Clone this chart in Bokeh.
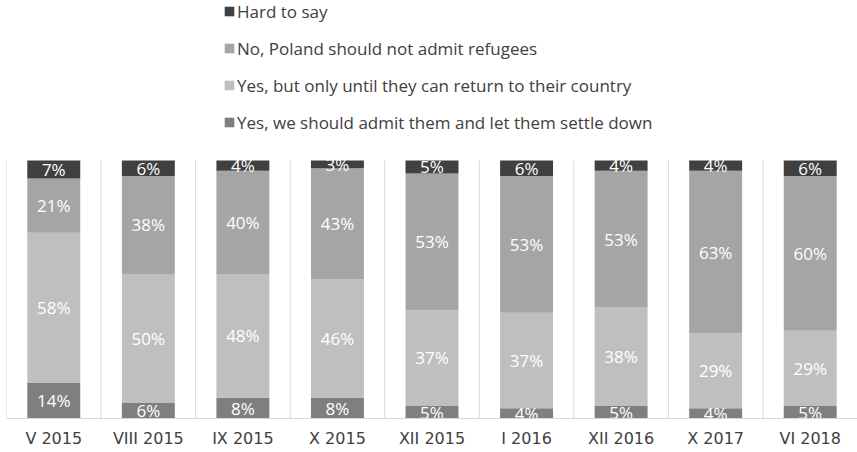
from bokeh.plotting import figure
from bokeh.models import Range1d, Legend, LegendItem, ColumnDataSource, FixedTicker
from bokeh.embed import file_html
from bokeh.resources import INLINE
from bokeh.core.properties import value

periods = ["V 2015", "VIII 2015", "IX 2015", "X 2015", "XII 2015",
           "I 2016", "XII 2016", "X 2017", "VI 2018"]
settle = [14, 6, 8, 8, 5, 4, 5, 4, 5]
temporary = [58, 50, 48, 46, 37, 37, 38, 29, 29]
no_admit = [21, 38, 40, 43, 53, 53, 53, 63, 60]
hard = [7, 6, 4, 3, 5, 6, 4, 4, 6]

series_keys = ["settle", "temporary", "no_admit", "hard"]
series_names = ["Yes, we should admit them and let them settle down",
                "Yes, but only until they can return to their country",
                "No, Poland should not admit refugees",
                "Hard to say"]
colors = ["#7f7f7f", "#bfbfbf", "#a5a5a5", "#404040"]

xs = list(range(len(periods)))
src = ColumnDataSource(dict(x=xs, settle=settle, temporary=temporary,
                            no_admit=no_admit, hard=hard))

p = figure(width=857, height=452, output_backend="svg", toolbar_location=None,
           x_range=Range1d(-0.5, len(periods) - 0.5),
           y_range=Range1d(0, 162), y_axis_location=None,
           min_border_left=6, min_border_right=0, min_border_top=0,
           min_border_bottom=34)
p.outline_line_color = None
p.xgrid.grid_line_color = None
p.ygrid.grid_line_color = None
p.background_fill_color = "white"
p.border_fill_color = "white"

# separators between categories
sep_x = [i - 0.5 for i in range(len(periods) + 1)]
p.segment(x0=sep_x, y0=[0] * len(sep_x), x1=sep_x, y1=[100] * len(sep_x),
          line_color="#d9d9d9", line_width=1)

renderers = p.vbar_stack(series_keys, x="x", width=0.56, source=src,
                         color=colors, line_color=None)

# labels
lx, ly, lt = [], [], []
for i in xs:
    bottom = 0
    for arr in (settle, temporary, no_admit, hard):
        v = arr[i]
        lx.append(i)
        ly.append(bottom + v / 2)
        lt.append(f"{v}%")
        bottom += v
p.text(x=lx, y=ly, text=lt, text_color="white", text_align="center",
       text_baseline="middle", text_font=value("Open Sans"),
       text_font_size="17px")

p.xaxis.ticker = FixedTicker(ticks=xs)
p.xaxis.major_label_overrides = {i: n for i, n in enumerate(periods)}
p.xaxis.axis_line_color = "#d9d9d9"
p.xaxis.major_tick_line_color = None
p.xaxis.minor_tick_line_color = None
p.xaxis.major_tick_out = 0
p.xaxis.major_tick_in = 0
p.xaxis.minor_tick_out = 0
p.xaxis.major_label_standoff = 10
p.xaxis.major_label_text_font = "DejaVu Sans"
p.xaxis.major_label_text_font_size = "16px"
p.xaxis.major_label_text_color = "#404040"

items = [LegendItem(label=series_names[k], renderers=[renderers[k]]) for k in (3, 2, 1, 0)]
legend = Legend(items=items, location=(217, 284), orientation="vertical",
                glyph_width=12, glyph_height=12, label_height=24,
                label_standoff=2, spacing=13, padding=0, margin=0,
                border_line_color=None, background_fill_alpha=0,
                label_text_font="Open Sans", label_text_font_size="17px",
                label_text_color="#404040")
p.add_layout(legend, "center")

open("out.html", "w").write(file_html(p, INLINE))
